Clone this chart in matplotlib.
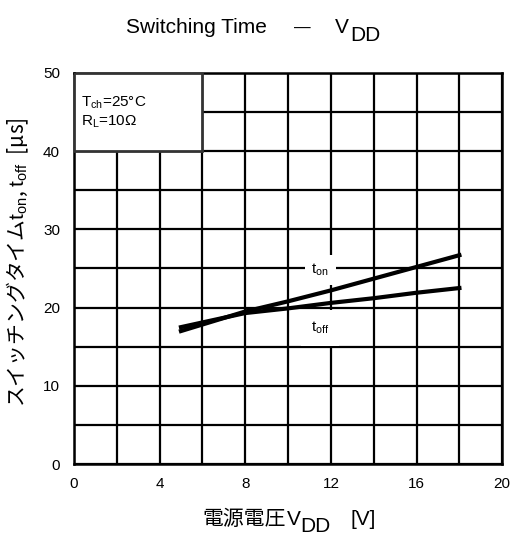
import matplotlib
matplotlib.use('Agg')
import matplotlib.pyplot as plt
from matplotlib.patches import Rectangle

plt.rcParams['font.family'] = ['Liberation Sans', 'DejaVu Sans']
plt.rcParams['mathtext.fontset'] = 'custom'
plt.rcParams['mathtext.rm'] = 'Liberation Sans'
plt.rcParams['mathtext.it'] = 'Liberation Sans'

# data
vdd = [5, 8, 10, 12, 14, 16, 18]
t_on = [17.0, 19.5, 20.8, 22.2, 23.7, 25.2, 26.7]
t_off = [17.5, 19.3, 19.9, 20.6, 21.2, 21.9, 22.5]

x_ticks = [0, 4, 8, 12, 16, 20]
y_ticks = [0, 10, 20, 30, 40, 50]

W, H = 513, 535
jp = ['Noto Sans CJK JP', 'DejaVu Sans']

fig = plt.figure(figsize=(W / 100, H / 100), dpi=100)
ax = fig.add_axes([0.144, 0.1327, 0.835, 0.7309])

ax.set_xlim(0, 20)
ax.set_ylim(0, 50)
ax.set_xticks(x_ticks)
ax.set_yticks(y_ticks)
ax.set_xticks(range(0, 21, 2), minor=True)
ax.set_yticks(range(0, 51, 5), minor=True)
ax.tick_params(which='both', length=0, labelsize=11)
ax.tick_params(axis='x', pad=9)
ax.tick_params(axis='y', pad=10)
ax.grid(which='both', color='black', linewidth=1.6)
for s in ax.spines.values():
    s.set_linewidth(1.8)

ax.plot(vdd, t_on, color='black', linewidth=3, zorder=3)
ax.plot(vdd, t_off, color='black', linewidth=3, zorder=3)

ax.text(11.5, 24.8, r'$\mathrm{t_{on}}$', fontsize=11, ha='center', va='center', zorder=4,
        bbox=dict(facecolor='white', edgecolor='none', pad=5))
ax.text(11.5, 17.4, r'$\mathrm{t_{off}}$', fontsize=11, ha='center', va='center', zorder=4,
        bbox=dict(facecolor='white', edgecolor='none', pad=7))

# condition box
ax.add_patch(Rectangle((0, 40), 6, 10, facecolor='white', edgecolor='#333333',
                       linewidth=2, zorder=4))
ax.text(0.35, 46.2, r'$\mathrm{T_{ch}}$=25°C', fontsize=11, va='center', zorder=5)
ax.text(0.35, 43.7, r'$\mathrm{R_{L}}$=10Ω', fontsize=11, va='center', zorder=5)

# title: Switching Time - V_DD
fig.text(267 / W, 0.938, 'Switching Time', fontsize=15, ha='right', va='baseline')
fig.text(302 / W, 0.938, '—', fontsize=12, ha='center', va='baseline')
fig.text(335 / W, 0.938, 'V', fontsize=15, ha='left', va='baseline')
fig.text(350 / W, 0.923, 'DD', fontsize=15, ha='left', va='baseline')

# x label: 電源電圧V_DD [V]
fig.text(202 / W, 0.0187, '電源電圧', fontsize=15, ha='left', va='baseline', family=jp)
fig.text(287 / W, 0.0187, 'V', fontsize=15, ha='left', va='baseline')
fig.text(300 / W, 0.0056, 'DD', fontsize=15, ha='left', va='baseline')
fig.text(350 / W, 0.0187, '[V]', fontsize=15, ha='left', va='baseline')

fig.text(0.035, 0.51, r'スイッチングタイム$\mathrm{t_{on}}$, $\mathrm{t_{off}}$  [μs]', fontsize=15,
         ha='center', va='center', rotation=90, family=jp)

fig.savefig('out.png', dpi=100)
